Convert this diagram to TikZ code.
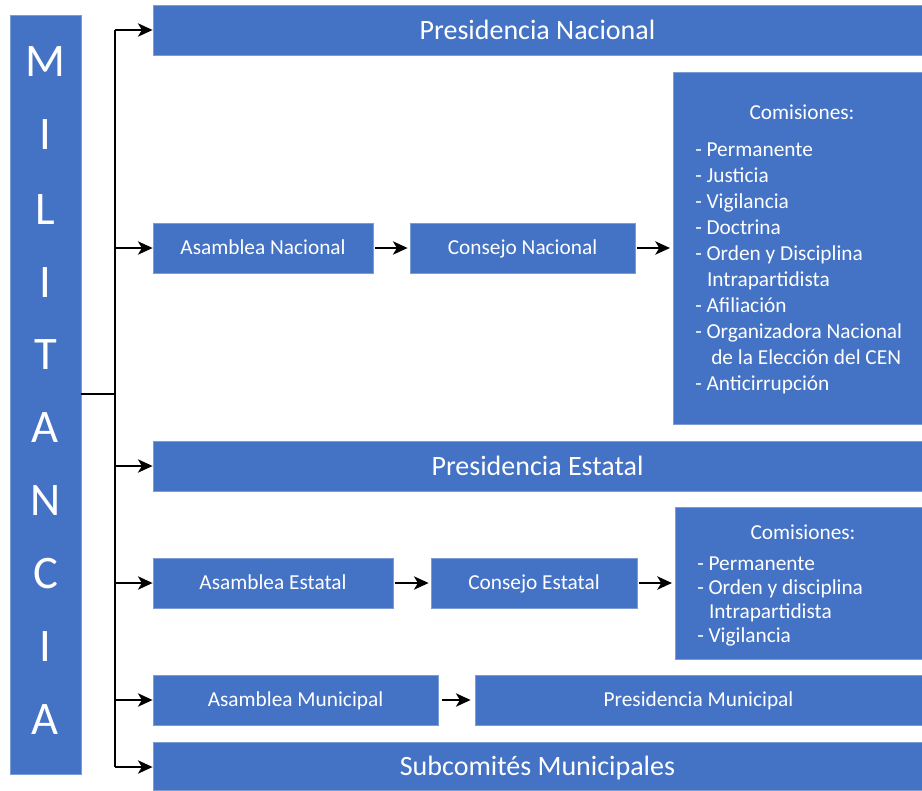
\documentclass[tikz,border=0pt]{standalone}
\usepackage{fontspec}
\setmainfont{Carlito}
\usetikzlibrary{arrows.meta,fit}
\definecolor{boxblue}{HTML}{4472C4}
\begin{document}
\begin{tikzpicture}[x=0.75pt,y=-0.75pt,
  box/.style={fill=boxblue, draw=boxblue!70!white, line width=0.6pt, inner sep=0pt},
  wt/.style={text=white, inner sep=0pt},
  bigtxt/.style={wt, font=\fontsize{21}{25}\selectfont},
  smalltxt/.style={wt, font=\fontsize{16}{19.5}\selectfont},
  conn/.style={line width=1.5pt, -{Stealth[length=11pt,width=10pt,inset=3pt]}},
  plain/.style={line width=1.5pt}]
\useasboundingbox (0,0) rectangle (922,790);
% Militancia
\node[box, fit={(10,15)(81,774)}] (mil) {};
\foreach \l/\yy [count=\i] in {M/62,I/135,L/210,I/283,T/355,A/428,N/501,C/574,I/647,A/720}
  \node[wt, font=\fontsize{35}{35}\selectfont] (mil\i) at (45.5,\yy) {\l};
% boxes
\node[box, fit={(153,5)(922,55)}] (pn) {};
\node[box, fit={(153,223)(373,273)}] (an) {};
\node[box, fit={(410,223)(635,273)}] (cn) {};
\node[box, fit={(673,72)(922,424)}] (comn) {};
\node[box, fit={(153,441)(922,491)}] (pe) {};
\node[box, fit={(153,558)(393,608)}] (ae) {};
\node[box, fit={(431,558)(637,608)}] (ce) {};
\node[box, fit={(675,507)(922,659)}] (come) {};
\node[box, fit={(153,675)(438,725)}] (am) {};
\node[box, fit={(475,675)(922,725)}] (pm) {};
\node[box, fit={(153,742)(922,790)}] (sm) {};
% box texts
\node[bigtxt, anchor=base] (pnt) at ([yshift=-6.8pt]pn.center) {Presidencia Nacional};
\node[smalltxt, anchor=base] (ant) at ([yshift=-5.2pt]an.center) {Asamblea Nacional};
\node[smalltxt, anchor=base] (cnt) at ([yshift=-5.2pt]cn.center) {Consejo Nacional};
\node[bigtxt, anchor=base] (pet) at ([yshift=-6.8pt]pe.center) {Presidencia Estatal};
\node[smalltxt, anchor=base] (aet) at ([yshift=-5.2pt]ae.center) {Asamblea Estatal};
\node[smalltxt, anchor=base] (cet) at ([yshift=-5.2pt]ce.center) {Consejo Estatal};
\node[smalltxt, anchor=base] (amt) at ([yshift=-5.2pt]am.center) {Asamblea Municipal};
\node[smalltxt, anchor=base] (pmt) at ([yshift=-5.2pt]pm.center) {Presidencia Municipal};
\node[bigtxt, anchor=base] (smt) at ([yshift=-6.8pt]sm.center) {Subcomités Municipales};
% comisiones text
\node[smalltxt] (comnt) at (802,112) {Comisiones:};
\node[smalltxt, align=left, anchor=north west] (comnl) at (695,143)
 {- Permanente\\- Justicia\\- Vigilancia\\- Doctrina\\- Orden y Disciplina\\\hspace*{0.55em}Intrapartidista\\- Afiliación\\- Organizadora Nacional\\\hspace*{0.75em}de la Elección del CEN\\- Anticirrupción};
\node[smalltxt] (comet) at (803,532) {Comisiones:};
\node[smalltxt, font=\fontsize{16}{17.8}\selectfont, align=left, anchor=north west] (comel) at (697,557)
 {- Permanente\\- Orden y disciplina\\\hspace*{0.55em}Intrapartidista\\- Vigilancia};
% trunk
\coordinate (j) at (115,394);
\coordinate (top) at (115,30);
\coordinate (bot) at (115,767);
\draw[plain] (mil.east |- j) -- (j);
\draw[plain] (top) -- (bot);
\draw[conn] (top) -- (pn.west |- top);
\draw[conn] (an.west -| top) -- (an.west);
\draw[conn] (pe.west -| top) -- (pe.west);
\draw[conn] (ae.west -| top) -- (ae.west);
\draw[conn] (am.west -| top) -- (am.west);
\draw[conn] (bot) -- (sm.west |- bot);
% horizontal arrows
\draw[conn] ([xshift=1.5pt]an.east) -- ([xshift=-1.5pt]cn.west);
\draw[conn] ([xshift=1.5pt]cn.east) -- ([xshift=-2pt]comn.west |- cn.east);
\draw[conn] ([xshift=1.5pt]ae.east) -- ([xshift=-1.5pt]ce.west);
\draw[conn] ([xshift=1.5pt]ce.east) -- ([xshift=-2pt]come.west |- ce.east);
\draw[conn] ([xshift=3pt]am.east) -- ([xshift=-3pt]pm.west);
\end{tikzpicture}
\end{document}
